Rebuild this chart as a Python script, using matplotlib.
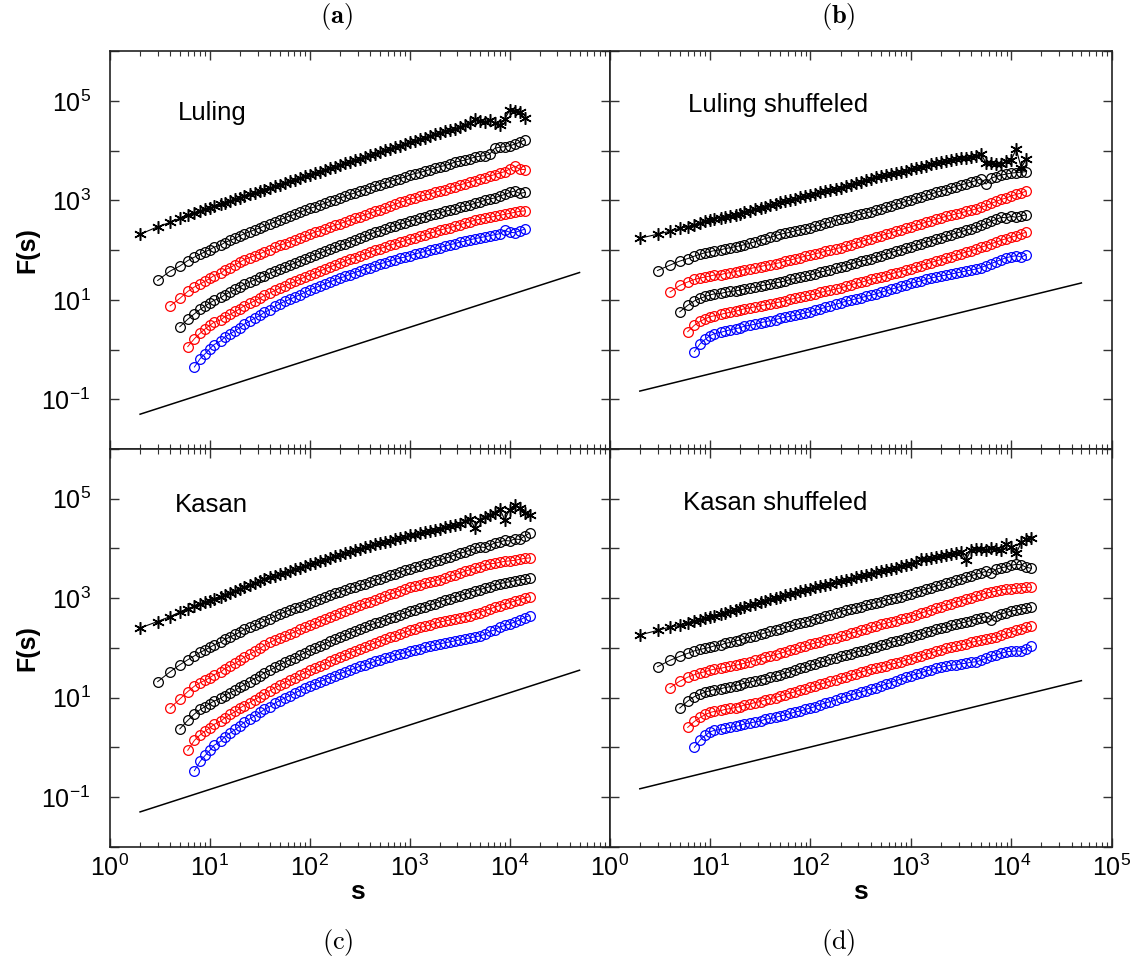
import numpy as np
import matplotlib
matplotlib.use('Agg')
import matplotlib.pyplot as plt
from matplotlib.ticker import FixedLocator, FixedFormatter, NullLocator

plt.rcParams['font.family'] = ['Liberation Sans', 'DejaVu Sans']
plt.rcParams['mathtext.fontset'] = 'custom'
plt.rcParams['mathtext.rm'] = 'Liberation Sans'
plt.rcParams['mathtext.it'] = 'Liberation Sans:italic'
plt.rcParams['mathtext.bf'] = 'Liberation Sans:bold'

# window sizes s (shared grid); each series starts at its own offset in S
S = [2, 3, 4, 5, 6, 7, 8, 9, 10, 11, 13, 14, 16, 18, 20, 22, 25, 28, 32, 35, 40, 45, 50, 56,
     63, 71, 79, 89, 100, 112, 126, 141, 158, 178, 200, 224, 251, 282, 316, 355, 398, 447,
     501, 562, 631, 708, 794, 891, 1000, 1122, 1259, 1413, 1585, 1778, 1995, 2239, 2512,
     2818, 3162, 3548, 3981, 4467, 5012, 5623, 6310, 7079, 7943, 8913, 10000, 11220, 12589,
     14125, 15849]

# ---- log10 F(s), panel (a) Luling ----
A_STAR = [2.32, 2.47, 2.56, 2.64, 2.70, 2.75, 2.79, 2.82, 2.85,
          2.88, 2.92, 2.95, 2.98, 3.02, 3.05, 3.09, 3.12, 3.15, 3.19,
          3.22, 3.25, 3.29, 3.32, 3.35, 3.39, 3.42, 3.45, 3.49, 3.52,
          3.55, 3.58, 3.62, 3.65, 3.68, 3.71, 3.75, 3.78, 3.81, 3.84,
          3.88, 3.91, 3.94, 3.97, 4.01, 4.04, 4.07, 4.10, 4.13, 4.17,
          4.20, 4.23, 4.26, 4.30, 4.33, 4.36, 4.39, 4.42, 4.44, 4.48,
          4.52, 4.56, 4.64, 4.60, 4.58, 4.61, 4.56, 4.51, 4.64, 4.81,
          4.79, 4.77, 4.66]
A_BLACK1 = [1.39, 1.58, 1.68, 1.79, 1.86, 1.92, 1.97, 2.01,
            2.06, 2.11, 2.15, 2.20, 2.24, 2.29, 2.33, 2.37, 2.41, 2.45,
            2.49, 2.53, 2.57, 2.61, 2.65, 2.69, 2.72, 2.76, 2.80, 2.84,
            2.87, 2.91, 2.94, 2.98, 3.01, 3.05, 3.08, 3.12, 3.15, 3.19,
            3.22, 3.26, 3.29, 3.32, 3.35, 3.38, 3.41, 3.44, 3.47, 3.51,
            3.54, 3.56, 3.59, 3.62, 3.65, 3.68, 3.70, 3.73, 3.77, 3.79,
            3.81, 3.84, 3.87, 3.89, 3.90, 3.93, 4.05, 4.07, 4.08, 4.10,
            4.13, 4.17, 4.22]
A_RED1 = [0.88, 1.03, 1.17, 1.26, 1.32, 1.38, 1.43,
          1.49, 1.54, 1.60, 1.65, 1.71, 1.76, 1.81, 1.85, 1.89, 1.93,
          1.97, 2.01, 2.06, 2.10, 2.13, 2.17, 2.21, 2.25, 2.28, 2.32,
          2.36, 2.39, 2.43, 2.46, 2.50, 2.53, 2.57, 2.60, 2.64, 2.67,
          2.71, 2.74, 2.78, 2.81, 2.85, 2.88, 2.92, 2.96, 2.99, 3.03,
          3.05, 3.08, 3.11, 3.13, 3.16, 3.19, 3.22, 3.25, 3.28, 3.31,
          3.34, 3.37, 3.40, 3.43, 3.46, 3.49, 3.52, 3.55, 3.58, 3.63,
          3.69, 3.63, 3.62]
A_BLACK2 = [0.46, 0.61, 0.72, 0.81, 0.88, 0.94,
            0.99, 1.05, 1.10, 1.16, 1.21, 1.26, 1.31, 1.36, 1.40, 1.45,
            1.49, 1.54, 1.58, 1.62, 1.66, 1.70, 1.74, 1.78, 1.83, 1.87,
            1.91, 1.94, 1.98, 2.02, 2.06, 2.10, 2.13, 2.17, 2.21, 2.25,
            2.28, 2.32, 2.36, 2.39, 2.42, 2.46, 2.49, 2.52, 2.55, 2.59,
            2.61, 2.64, 2.67, 2.70, 2.72, 2.75, 2.78, 2.80, 2.83, 2.86,
            2.89, 2.91, 2.94, 2.97, 3.00, 3.03, 3.05, 3.09, 3.12, 3.16,
            3.19, 3.14, 3.16]
A_RED2 = [0.06, 0.22, 0.33, 0.42, 0.49,
          0.55, 0.60, 0.66, 0.71, 0.77, 0.82, 0.88, 0.93, 0.98, 1.04,
          1.09, 1.14, 1.19, 1.24, 1.28, 1.33, 1.37, 1.41, 1.46, 1.50,
          1.54, 1.58, 1.62, 1.66, 1.70, 1.74, 1.78, 1.82, 1.85, 1.89,
          1.93, 1.96, 2.00, 2.03, 2.06, 2.10, 2.13, 2.16, 2.19, 2.22,
          2.25, 2.28, 2.31, 2.34, 2.37, 2.40, 2.43, 2.45, 2.48, 2.51,
          2.54, 2.57, 2.60, 2.62, 2.64, 2.66, 2.68, 2.70, 2.72, 2.74,
          2.76, 2.78, 2.79]
A_BLUE = [-0.35, -0.18, -0.08, 0.02,
          0.10, 0.18, 0.25, 0.32, 0.38, 0.44, 0.51, 0.57, 0.63, 0.69,
          0.75, 0.80, 0.87, 0.92, 0.97, 1.01, 1.06, 1.10, 1.15, 1.20,
          1.24, 1.28, 1.32, 1.36, 1.40, 1.44, 1.47, 1.51, 1.55, 1.58,
          1.62, 1.65, 1.69, 1.72, 1.75, 1.78, 1.81, 1.84, 1.86, 1.89,
          1.92, 1.95, 1.97, 2.00, 2.02, 2.05, 2.08, 2.11, 2.13, 2.16,
          2.18, 2.21, 2.23, 2.25, 2.27, 2.29, 2.31, 2.33, 2.40, 2.36,
          2.35, 2.39, 2.42]

# ---- panel (b) Luling shuffeled ----
B_STAR = [2.24, 2.32, 2.38, 2.44, 2.47, 2.51, 2.55, 2.58, 2.61,
          2.63, 2.65, 2.67, 2.69, 2.71, 2.73, 2.76, 2.79, 2.82, 2.85,
          2.87, 2.90, 2.93, 2.96, 2.98, 3.01, 3.03, 3.06, 3.08, 3.11,
          3.13, 3.16, 3.18, 3.21, 3.23, 3.26, 3.29, 3.32, 3.35, 3.38,
          3.41, 3.44, 3.47, 3.49, 3.51, 3.53, 3.56, 3.58, 3.60, 3.63,
          3.65, 3.68, 3.70, 3.73, 3.75, 3.78, 3.79, 3.81, 3.83, 3.85,
          3.86, 3.88, 3.90, 3.93, 3.75, 3.76, 3.73, 3.74, 3.79, 3.82,
          4.03, 3.66, 3.83]
B_BLACK1 = [1.59, 1.70, 1.78, 1.83, 1.88, 1.92, 1.95, 1.97,
            1.99, 2.01, 2.03, 2.05, 2.07, 2.09, 2.11, 2.14, 2.17, 2.20,
            2.23, 2.26, 2.29, 2.32, 2.34, 2.36, 2.39, 2.41, 2.43, 2.45,
            2.48, 2.51, 2.54, 2.57, 2.60, 2.62, 2.65, 2.67, 2.70, 2.72,
            2.75, 2.77, 2.80, 2.83, 2.86, 2.89, 2.92, 2.95, 2.98, 3.01,
            3.04, 3.07, 3.10, 3.13, 3.16, 3.19, 3.22, 3.25, 3.28, 3.31,
            3.34, 3.37, 3.40, 3.43, 3.33, 3.45, 3.48, 3.51, 3.53, 3.55,
            3.56, 3.57, 3.58]
B_RED1 = [1.16, 1.29, 1.36, 1.41, 1.44, 1.46, 1.48,
          1.50, 1.51, 1.53, 1.55, 1.57, 1.59, 1.61, 1.63, 1.65, 1.67,
          1.69, 1.71, 1.73, 1.75, 1.78, 1.80, 1.83, 1.85, 1.88, 1.90,
          1.93, 1.95, 1.98, 2.00, 2.03, 2.05, 2.08, 2.11, 2.14, 2.17,
          2.20, 2.23, 2.26, 2.29, 2.32, 2.35, 2.38, 2.41, 2.44, 2.47,
          2.50, 2.53, 2.56, 2.59, 2.62, 2.65, 2.68, 2.70, 2.73, 2.75,
          2.78, 2.80, 2.83, 2.86, 2.90, 2.94, 2.98, 3.02, 3.05, 3.09,
          3.12, 3.15, 3.19]
B_BLACK2 = [0.76, 0.89, 0.98, 1.03, 1.07, 1.10,
            1.12, 1.13, 1.15, 1.17, 1.18, 1.20, 1.22, 1.24, 1.26, 1.28,
            1.30, 1.32, 1.34, 1.36, 1.38, 1.41, 1.43, 1.45, 1.48, 1.50,
            1.53, 1.56, 1.58, 1.61, 1.64, 1.67, 1.69, 1.72, 1.75, 1.78,
            1.80, 1.83, 1.86, 1.89, 1.92, 1.95, 1.98, 2.01, 2.04, 2.07,
            2.10, 2.13, 2.16, 2.19, 2.22, 2.25, 2.28, 2.31, 2.34, 2.37,
            2.40, 2.43, 2.46, 2.50, 2.54, 2.58, 2.62, 2.66, 2.65, 2.68,
            2.66, 2.69, 2.71]
B_RED2 = [0.36, 0.49, 0.57, 0.62, 0.66,
          0.68, 0.71, 0.73, 0.75, 0.77, 0.80, 0.82, 0.84, 0.86, 0.88,
          0.90, 0.92, 0.94, 0.96, 0.98, 1.01, 1.03, 1.05, 1.08, 1.10,
          1.12, 1.15, 1.17, 1.19, 1.22, 1.24, 1.27, 1.30, 1.33, 1.35,
          1.38, 1.41, 1.44, 1.46, 1.49, 1.52, 1.55, 1.57, 1.60, 1.63,
          1.66, 1.69, 1.72, 1.75, 1.78, 1.81, 1.84, 1.87, 1.90, 1.93,
          1.96, 1.99, 2.02, 2.06, 2.09, 2.13, 2.16, 2.20, 2.23, 2.26,
          2.29, 2.33, 2.36]
B_BLUE = [-0.04, 0.12, 0.21, 0.28,
          0.32, 0.35, 0.37, 0.40, 0.42, 0.44, 0.47, 0.49, 0.51, 0.54,
          0.56, 0.58, 0.60, 0.63, 0.65, 0.67, 0.69, 0.71, 0.74, 0.76,
          0.79, 0.82, 0.85, 0.88, 0.91, 0.94, 0.97, 0.99, 1.02, 1.04,
          1.07, 1.09, 1.12, 1.15, 1.18, 1.21, 1.24, 1.27, 1.30, 1.33,
          1.36, 1.38, 1.41, 1.44, 1.46, 1.48, 1.50, 1.52, 1.54, 1.56,
          1.58, 1.60, 1.62, 1.65, 1.69, 1.73, 1.77, 1.81, 1.85, 1.87,
          1.89, 1.86, 1.91]

# ---- panel (c) Kasan ----
C_STAR = [2.40, 2.53, 2.63, 2.72, 2.79, 2.84, 2.88, 2.92, 2.95,
          2.99, 3.03, 3.07, 3.11, 3.15, 3.19, 3.22, 3.26, 3.30, 3.34,
          3.38, 3.42, 3.45, 3.48, 3.51, 3.55, 3.58, 3.61, 3.65, 3.68,
          3.71, 3.74, 3.77, 3.80, 3.84, 3.87, 3.90, 3.93, 3.96, 3.99,
          4.02, 4.05, 4.08, 4.10, 4.13, 4.15, 4.18, 4.21, 4.23, 4.26,
          4.28, 4.31, 4.33, 4.36, 4.38, 4.40, 4.43, 4.45, 4.47, 4.50,
          4.55, 4.60, 4.42, 4.58, 4.64, 4.67, 4.72, 4.80, 4.58, 4.78,
          4.87, 4.82, 4.72, 4.68]
C_BLACK1 = [1.32, 1.52, 1.66, 1.76, 1.84, 1.91, 1.96, 2.01,
            2.06, 2.12, 2.17, 2.22, 2.27, 2.32, 2.37, 2.41, 2.46, 2.50,
            2.55, 2.59, 2.64, 2.68, 2.72, 2.76, 2.80, 2.83, 2.87, 2.91,
            2.95, 2.98, 3.02, 3.06, 3.10, 3.13, 3.16, 3.20, 3.23, 3.26,
            3.29, 3.33, 3.36, 3.39, 3.42, 3.46, 3.49, 3.52, 3.56, 3.59,
            3.62, 3.65, 3.68, 3.71, 3.74, 3.77, 3.80, 3.83, 3.87, 3.90,
            3.93, 3.96, 4.00, 4.03, 4.02, 4.06, 4.11, 4.13, 4.16, 4.15,
            4.19, 4.18, 4.25, 4.31]
C_RED1 = [0.79, 0.97, 1.12, 1.23, 1.30, 1.35, 1.40,
          1.46, 1.52, 1.58, 1.64, 1.69, 1.75, 1.81, 1.87, 1.93, 1.99,
          2.05, 2.11, 2.16, 2.20, 2.24, 2.28, 2.32, 2.37, 2.41, 2.45,
          2.49, 2.54, 2.58, 2.62, 2.67, 2.71, 2.75, 2.79, 2.82, 2.86,
          2.90, 2.93, 2.97, 3.00, 3.04, 3.08, 3.11, 3.15, 3.18, 3.22,
          3.25, 3.27, 3.30, 3.32, 3.35, 3.37, 3.40, 3.44, 3.47, 3.50,
          3.54, 3.57, 3.60, 3.63, 3.66, 3.69, 3.70, 3.72, 3.74, 3.75,
          3.76, 3.78, 3.80, 3.81]
C_BLACK2 = [0.37, 0.54, 0.67, 0.76, 0.82, 0.88,
            0.93, 0.99, 1.04, 1.10, 1.15, 1.21, 1.26, 1.32, 1.38, 1.44,
            1.50, 1.55, 1.61, 1.66, 1.71, 1.76, 1.80, 1.85, 1.90, 1.95,
            1.99, 2.04, 2.08, 2.13, 2.17, 2.22, 2.26, 2.30, 2.34, 2.38,
            2.42, 2.46, 2.49, 2.52, 2.56, 2.60, 2.63, 2.67, 2.70, 2.74,
            2.77, 2.80, 2.83, 2.86, 2.89, 2.93, 2.96, 2.99, 3.02, 3.05,
            3.08, 3.11, 3.15, 3.17, 3.20, 3.23, 3.26, 3.29, 3.31, 3.33,
            3.35, 3.37, 3.38, 3.40]
C_RED2 = [-0.06, 0.14, 0.25, 0.33, 0.39,
          0.46, 0.53, 0.59, 0.66, 0.72, 0.79, 0.84, 0.90, 0.96, 1.02,
          1.08, 1.14, 1.20, 1.25, 1.30, 1.35, 1.40, 1.45, 1.50, 1.55,
          1.59, 1.64, 1.68, 1.73, 1.77, 1.82, 1.86, 1.90, 1.94, 1.98,
          2.02, 2.06, 2.10, 2.14, 2.17, 2.21, 2.24, 2.28, 2.31, 2.35,
          2.38, 2.41, 2.43, 2.46, 2.49, 2.52, 2.54, 2.56, 2.58, 2.61,
          2.63, 2.65, 2.68, 2.71, 2.75, 2.78, 2.82, 2.85, 2.88, 2.91,
          2.94, 2.97, 3.00, 3.03]
C_BLUE = [-0.47, -0.28, -0.16, -0.06,
          0.04, 0.13, 0.21, 0.29, 0.36, 0.43, 0.50, 0.57, 0.63, 0.70,
          0.76, 0.82, 0.89, 0.94, 0.99, 1.04, 1.09, 1.14, 1.19, 1.24,
          1.28, 1.32, 1.36, 1.40, 1.44, 1.48, 1.52, 1.55, 1.59, 1.63,
          1.66, 1.69, 1.73, 1.76, 1.79, 1.82, 1.85, 1.88, 1.90, 1.93,
          1.96, 1.98, 2.01, 2.03, 2.06, 2.08, 2.10, 2.12, 2.14, 2.16,
          2.18, 2.20, 2.22, 2.24, 2.27, 2.33, 2.36, 2.42, 2.45, 2.48,
          2.52, 2.56, 2.61, 2.65]

# ---- panel (d) Kasan shuffeled ----
D_STAR = [2.26, 2.35, 2.42, 2.45, 2.50, 2.54, 2.57, 2.60, 2.62,
          2.65, 2.68, 2.71, 2.74, 2.77, 2.80, 2.83, 2.86, 2.89, 2.92,
          2.95, 2.98, 3.00, 3.03, 3.06, 3.08, 3.11, 3.14, 3.16, 3.19,
          3.22, 3.24, 3.27, 3.29, 3.32, 3.34, 3.37, 3.39, 3.42, 3.44,
          3.47, 3.49, 3.52, 3.54, 3.56, 3.59, 3.61, 3.64, 3.66, 3.69,
          3.73, 3.79, 3.78, 3.80, 3.82, 3.85, 3.87, 3.89, 3.91, 3.93,
          3.77, 3.97, 3.98, 3.99, 3.97, 4.01, 3.99, 3.96, 4.09, 4.02,
          3.90, 4.12, 4.19, 4.21]
D_BLACK1 = [1.62, 1.75, 1.83, 1.89, 1.94, 1.97, 1.99, 2.01,
            2.04, 2.06, 2.09, 2.11, 2.14, 2.16, 2.19, 2.22, 2.24, 2.27,
            2.30, 2.33, 2.35, 2.38, 2.41, 2.44, 2.47, 2.49, 2.52, 2.55,
            2.58, 2.61, 2.64, 2.67, 2.70, 2.73, 2.76, 2.78, 2.81, 2.83,
            2.86, 2.88, 2.91, 2.93, 2.96, 2.98, 3.01, 3.03, 3.06, 3.09,
            3.12, 3.15, 3.18, 3.21, 3.24, 3.27, 3.30, 3.33, 3.36, 3.39,
            3.42, 3.45, 3.48, 3.51, 3.54, 3.50, 3.58, 3.61, 3.63, 3.66,
            3.68, 3.67, 3.62, 3.60]
D_RED1 = [1.20, 1.33, 1.41, 1.46, 1.50, 1.52, 1.55,
          1.57, 1.59, 1.61, 1.63, 1.65, 1.67, 1.69, 1.72, 1.75, 1.78,
          1.81, 1.84, 1.86, 1.89, 1.92, 1.95, 1.98, 2.01, 2.04, 2.07,
          2.10, 2.12, 2.15, 2.18, 2.20, 2.23, 2.26, 2.29, 2.32, 2.35,
          2.38, 2.41, 2.44, 2.47, 2.49, 2.52, 2.55, 2.58, 2.60, 2.63,
          2.66, 2.70, 2.73, 2.76, 2.80, 2.83, 2.86, 2.89, 2.92, 2.95,
          2.98, 3.01, 3.04, 3.07, 3.10, 3.12, 3.14, 3.17, 3.18, 3.19,
          3.20, 3.21, 3.22, 3.22]
D_BLACK2 = [0.79, 0.93, 1.02, 1.07, 1.11, 1.14,
            1.16, 1.18, 1.20, 1.22, 1.24, 1.26, 1.29, 1.31, 1.34, 1.36,
            1.38, 1.41, 1.43, 1.46, 1.49, 1.52, 1.56, 1.59, 1.62, 1.65,
            1.68, 1.71, 1.74, 1.77, 1.80, 1.83, 1.86, 1.88, 1.91, 1.94,
            1.96, 1.99, 2.02, 2.05, 2.08, 2.11, 2.13, 2.16, 2.19, 2.22,
            2.25, 2.28, 2.31, 2.34, 2.37, 2.40, 2.42, 2.45, 2.47, 2.50,
            2.52, 2.55, 2.58, 2.60, 2.63, 2.56, 2.65, 2.68, 2.71, 2.74,
            2.76, 2.78, 2.80, 2.82]
D_RED2 = [0.40, 0.52, 0.60, 0.66, 0.70,
          0.72, 0.74, 0.76, 0.78, 0.80, 0.82, 0.85, 0.87, 0.90, 0.92,
          0.95, 0.98, 1.00, 1.03, 1.06, 1.09, 1.12, 1.15, 1.18, 1.21,
          1.24, 1.27, 1.30, 1.33, 1.36, 1.39, 1.42, 1.45, 1.48, 1.51,
          1.54, 1.57, 1.60, 1.62, 1.64, 1.67, 1.69, 1.72, 1.75, 1.78,
          1.81, 1.84, 1.87, 1.90, 1.93, 1.96, 1.99, 2.01, 2.04, 2.06,
          2.08, 2.11, 2.13, 2.15, 2.17, 2.20, 2.22, 2.25, 2.29, 2.32,
          2.35, 2.38, 2.41, 2.44]
D_BLUE = [0.00, 0.15, 0.24, 0.31,
          0.34, 0.36, 0.38, 0.40, 0.42, 0.44, 0.47, 0.49, 0.51, 0.53,
          0.56, 0.58, 0.60, 0.63, 0.65, 0.68, 0.71, 0.73, 0.76, 0.79,
          0.82, 0.86, 0.89, 0.92, 0.95, 0.99, 1.02, 1.05, 1.08, 1.11,
          1.14, 1.17, 1.20, 1.23, 1.27, 1.30, 1.34, 1.37, 1.41, 1.44,
          1.47, 1.50, 1.53, 1.56, 1.59, 1.61, 1.63, 1.65, 1.66, 1.68,
          1.69, 1.71, 1.72, 1.75, 1.79, 1.83, 1.86, 1.89, 1.92, 1.93,
          1.94, 1.93, 1.98, 2.03]

# reference slope lines (log10 F at the two end s values)
REF_S = [2, 50000]
REF_AC = [-1.30, 1.55]
REF_BD = [-0.835, 1.34]

PANEL_TEXT = ['Luling', 'Luling shuffeled', 'Kasan', 'Kasan shuffeled']
SERIES_COLORS = ['black', 'black', 'red', 'black', 'red', 'blue']
XT = [1, 10, 100, 1000, 10000, 100000]
YT = [1e-2, 1e-1, 1, 10, 100, 1e3, 1e4, 1e5, 1e6]
YT_LABELS = ['', r'$10^{-1}$', '', r'$10^{1}$', '', r'$10^{3}$', '', r'$10^{5}$', '']
XT_LABELS = [r'$10^{0}$', r'$10^{1}$', r'$10^{2}$', r'$10^{3}$', r'$10^{4}$', r'$10^{5}$']

W, H = 1135, 959
fig = plt.figure(figsize=(W / 100, H / 100), dpi=100)


def fx(px):
    return px / W


def fy(py):
    return 1 - py / H


boxes = {
    'a': [fx(110), fy(449), fx(499.6), 397.7 / H],
    'b': [fx(609.6), fy(449), fx(502), 397.7 / H],
    'c': [fx(110), fy(846.7), fx(499.6), 397.7 / H],
    'd': [fx(609.6), fy(846.7), fx(502), 397.7 / H],
}
data = {
    'a': ([A_STAR, A_BLACK1, A_RED1, A_BLACK2, A_RED2, A_BLUE], REF_AC),
    'b': ([B_STAR, B_BLACK1, B_RED1, B_BLACK2, B_RED2, B_BLUE], REF_BD),
    'c': ([C_STAR, C_BLACK1, C_RED1, C_BLACK2, C_RED2, C_BLUE], REF_AC),
    'd': ([D_STAR, D_BLACK1, D_RED1, D_BLACK2, D_RED2, D_BLUE], REF_BD),
}
text_pos = {'a': (0.136, 0.845), 'b': (0.156, 0.866), 'c': (0.13, 0.859), 'd': (0.146, 0.864)}

minor_x = [k * 10 ** e for e in range(5) for k in range(2, 10)]
asterisk = (6, 2, 0)

for i, key in enumerate(['a', 'b', 'c', 'd']):
    ax = fig.add_axes(boxes[key])
    series, ref = data[key]
    for k, (vals, col) in enumerate(zip(series, SERIES_COLORS)):
        xs = S[k:k + len(vals)]
        ys = 10 ** np.array(vals)
        if k == 0:
            ax.plot(xs, ys, color=col, lw=0.8, marker=asterisk, ms=9, mew=1.1, zorder=3)
        else:
            ax.plot(xs, ys, color=col, lw=0.7, marker='o', ms=7.0, mfc='none',
                    mec=col, mew=0.9, zorder=3)
    ax.plot(REF_S, 10 ** np.array(ref), color='black', lw=1.1, zorder=2)

    ax.set_xscale('log')
    ax.set_yscale('log')
    ax.set_xlim(1, 1e5)
    ax.set_ylim(1e-2, 1e6)
    ax.xaxis.set_major_locator(FixedLocator(XT))
    ax.xaxis.set_minor_locator(FixedLocator(minor_x))
    ax.yaxis.set_major_locator(FixedLocator(YT))
    ax.yaxis.set_minor_locator(NullLocator())
    ax.tick_params(which='both', direction='in', top=True, right=True,
                   color='#333333', labelsize=18)
    ax.tick_params(which='major', length=6.5, width=1.0)
    ax.tick_params(which='minor', length=3.6, width=0.8)
    ax.tick_params(axis='y', pad=14)
    ax.tick_params(axis='x', pad=6)
    for sp in ax.spines.values():
        sp.set_linewidth(1.2)
        sp.set_color('#222222')

    if key in ('a', 'c'):
        ax.yaxis.set_major_formatter(FixedFormatter(YT_LABELS))
    else:
        ax.yaxis.set_major_formatter(FixedFormatter([''] * len(YT)))
    if key == 'c':
        ax.xaxis.set_major_formatter(FixedFormatter(XT_LABELS[:-1] + ['']))
    elif key == 'd':
        ax.xaxis.set_major_formatter(FixedFormatter(XT_LABELS))
    else:
        ax.xaxis.set_major_formatter(FixedFormatter([''] * len(XT)))

    tx, ty = text_pos[key]
    ax.text(tx, ty, PANEL_TEXT[i], transform=ax.transAxes, fontsize=18.5,
            ha='left', va='center')

# axis labels
for cy in (250, 648):
    fig.text(fx(27), fy(cy), 'F(s)', rotation=90, fontsize=18, fontweight='bold',
             ha='center', va='center')
for cx in (357, 860):
    fig.text(fx(cx), fy(892), 's', fontsize=19, fontweight='bold', ha='center', va='center')

# panel tags
fig.text(fx(336), fy(17), r'$\mathbf{(a)}$', math_fontfamily='cm', fontsize=19,
         ha='center', va='center')
fig.text(fx(838), fy(17), r'$\mathbf{(b)}$', math_fontfamily='cm', fontsize=19,
         ha='center', va='center')
fig.text(fx(338), fy(943), r'$\mathrm{(c)}$', math_fontfamily='cm', fontsize=19,
         ha='center', va='center')
fig.text(fx(838), fy(943), r'$\mathrm{(d)}$', math_fontfamily='cm', fontsize=19,
         ha='center', va='center')

fig.savefig('out.png', dpi=100)
